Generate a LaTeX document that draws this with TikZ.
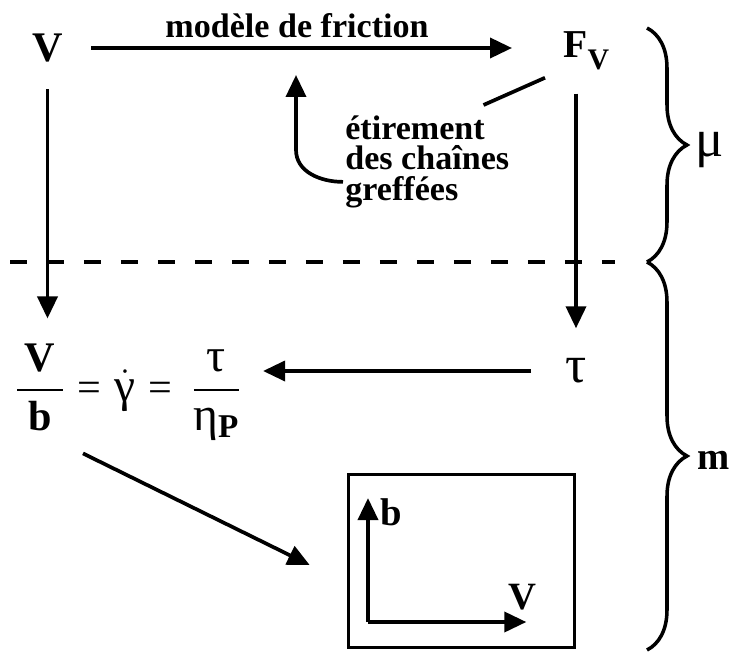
\documentclass[tikz,border=0pt]{standalone}
\usepackage{amsmath}
\usepackage{fontspec}
\setmainfont{Liberation Serif}
\usetikzlibrary{arrows.meta,positioning,calc,decorations.pathreplacing}
\tikzset{
  sym/.style={inner sep=0pt, font=\fontsize{24}{28}\selectfont\bfseries},
  grk/.style={inner sep=0pt, font=\fontsize{30}{34}\selectfont},
  note/.style={inner sep=0pt, align=left, font=\fontsize{19.4}{17.6}\selectfont\bfseries},
  flow/.style={-{Triangle[length=4.4mm,width=4mm]}, line width=2.1pt},
  tie/.style={line width=2.1pt},
  cutline/.style={line width=2.1pt, dash pattern=on 0.34cm off 0.4cm},
  brc/.style={decorate, decoration={brace, amplitude=0.8cm}, line width=2pt},
  frame/.style={draw, line width=2.1pt, minimum width=4.52cm, minimum height=3.46cm, inner sep=0pt},
}
\begin{document}
\begin{tikzpicture}[x=0.02cm, y=-0.02cm]
    \useasboundingbox (0,0) rectangle (730,652);
    \node[sym] (vin) at (47.5,48) {V};
    \node[sym, anchor=base west, font=\fontsize{22.5}{26}\selectfont\bfseries] (fv) at (563,58) {F\raisebox{-6.8pt}{\fontsize{17}{20}\selectfont V}};
    \node[note, anchor=base] (fric) at (297,38) {modèle de friction};
    \node[note, anchor=north west] (stretch) at (345,115) {étirement\\des chaînes\\greffées};
    \node[grk] (tau) at (576,371) {τ};
    \node[anchor=base west, inner sep=0pt, font=\fontsize{24}{28}\selectfont] (frac) at (17,401)
      {\nulldelimiterspace=0pt$\dfrac{\makebox[26pt]{\bfseries V}}{\makebox[26pt]{\bfseries b}}\hspace{8.5pt}\text{=}\hspace{7.3pt}\dot{\text{\fontsize{27}{30}\selectfont γ}}\hspace{7.3pt}\text{=}\hspace{12.4pt}\dfrac{\makebox[25.5pt]{\fontsize{27}{30}\selectfont τ}}{\makebox[25.5pt]{\fontsize{27}{30}\selectfont η\textsubscript{\bfseries P}}}$};
    \node[frame] (box) at (461.5,561) {};
    \coordinate (orig) at (368,622);
    \node[sym, font=\fontsize{22}{26}\selectfont\bfseries] (bl) at (391,512) {b};
    \node[sym, font=\fontsize{22}{26}\selectfont\bfseries] (vl) at (522,597) {V};
    \node[grk] (mu) at (710,150) {μ};
    \node[sym, font=\fontsize{22}{26}\selectfont\bfseries] (ml) at (714,460) {m};
    \coordinate (pull) at (296,75);

    \draw[flow, shorten <=0.54cm, shorten >=0.5cm] (vin.south) -- (vin.south |- frac.north);
    \draw[flow, shorten <=0.56cm, shorten >=1.02cm] (vin.east) -- (vin.east -| fv.west);
    \draw[flow, shorten <=0.46cm, shorten >=0.6cm] (tau.north |- fv.south) -- (tau.north);
    \draw[flow, shorten <=0.68cm, shorten >=0.48cm] (tau.west) -- (tau.west -| frac.east);
    \draw[flow] ([shift={(66,12)}]frac.south west) -- ([shift={(-37,4)}]box.west);
    \draw[flow] ([shift={(-2,20)}]stretch.west) to[out=180,in=270] ++(-47,-32) -- (pull);
    \draw[tie] ([shift={(-18,7)}]fv.south west) -- ([shift={(-26,-10)}]stretch.north east);
    \draw[flow] (orig) -- (orig |- bl.north);
    \draw[flow, shorten >=0.2cm] (orig) -- (orig -| vl.east);
    \draw[cutline] (10,262) -- (615,262);
    \draw[brc] (647,28) -- (647,262);
    \draw[brc] (647,262) -- (647,650);
  \end{tikzpicture}
\end{document}
